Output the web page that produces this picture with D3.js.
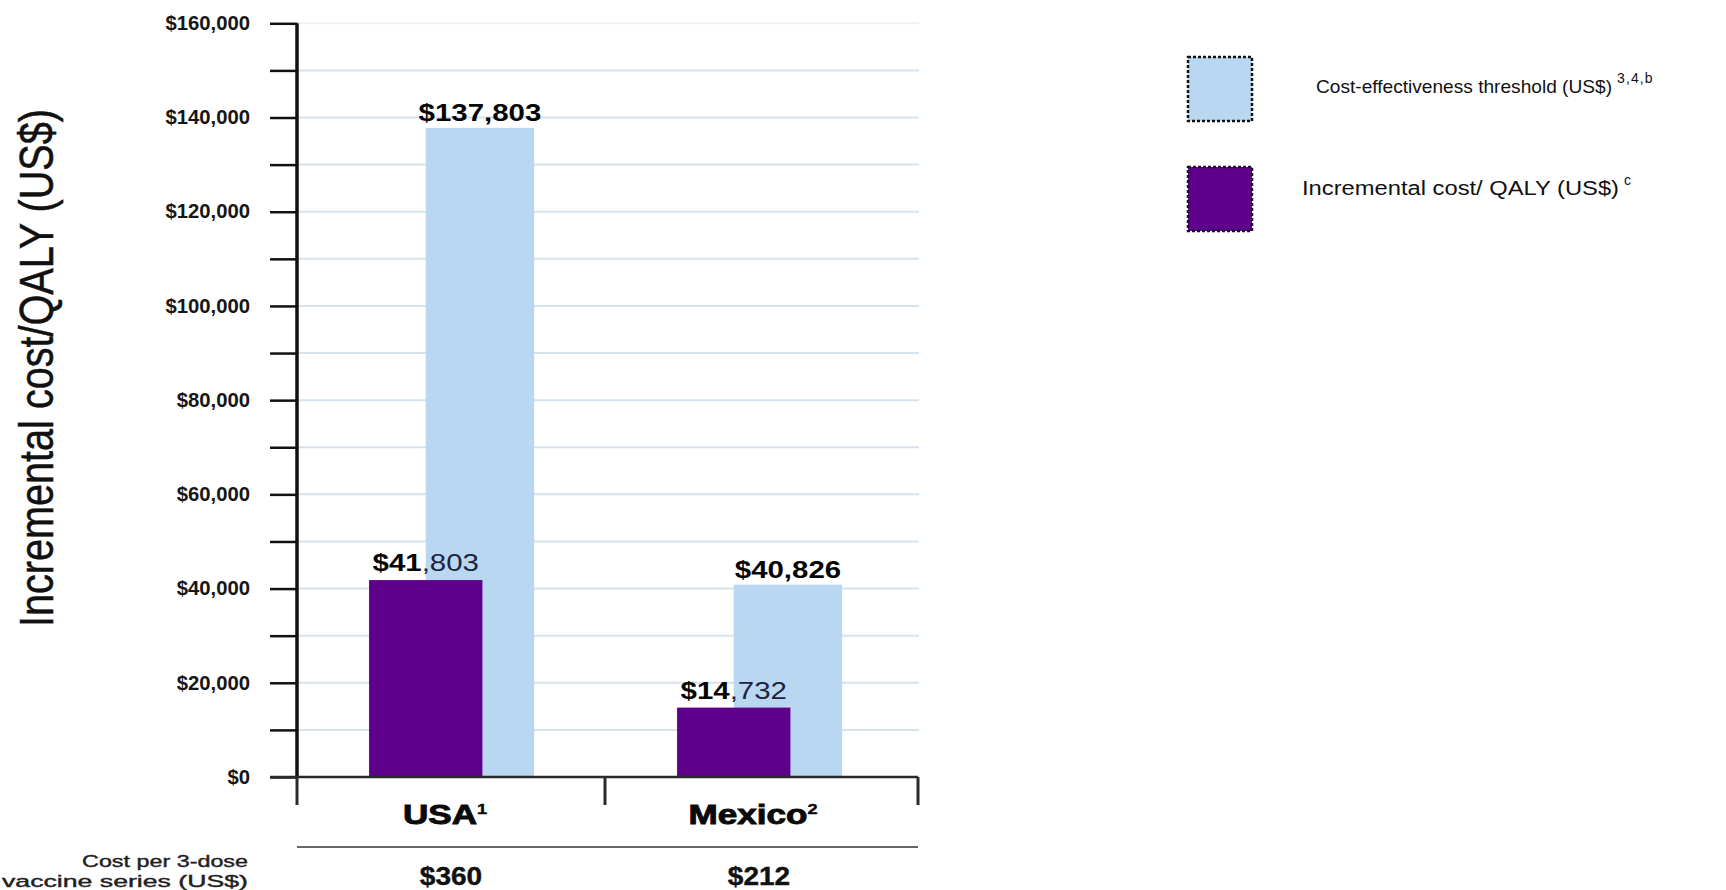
<!DOCTYPE html>
<html>
<head>
<meta charset="utf-8">
<script src="https://cdn.jsdelivr.net/npm/d3@7"></script>
<style>
  html, body { margin: 0; padding: 0; background: #fff; overflow: hidden; }
  svg { display: block; font-family: "Liberation Sans", Arial, sans-serif; }
</style>
</head>
<body>
<svg id="chart" width="1726" height="890"></svg>
<script>
// Countries on the x axis and the reference mark printed after each name
const countries = ["USA", "Mexico"];
const countryRefs = ["1", "2"];
// Cost per 3-dose vaccine series (US$)
const seriesCost = [360, 212];
// Incremental cost per QALY (US$)
const incrementalCost = [41803, 14732];
// Cost-effectiveness threshold (US$)
const thresholdCost = [137803, 40826];
// Y axis ticks (every $10,000, labelled every $20,000)
const yTicks = [0, 10000, 20000, 30000, 40000, 50000, 60000, 70000, 80000,
                90000, 100000, 110000, 120000, 130000, 140000, 150000, 160000];
const yTickLabels = ["$0", "", "$20,000", "", "$40,000", "", "$60,000", "", "$80,000",
                     "", "$100,000", "", "$120,000", "", "$140,000", "", "$160,000"];
// Legend entries
const legendLabels = ["Cost-effectiveness threshold (US$)", "Incremental cost/ QALY (US$)"];
const legendRefs = ["3,4,b", "c"];
const rowLabel = ["Cost per 3-dose", "vaccine series (US$)"];
const yTitle = "Incremental cost/QALY (US$)";

const PURPLE = "#5e008b";
const LIGHT_BLUE = "#b9d7f1";
const GRID = "#d4e3ed";

const svg = d3.select("#chart");
const plotLeft = 297, plotRight = 918, plotTop = 23.3, plotBase = 777;

const y = d3.scaleLinear().domain([0, 160000]).range([plotBase, plotTop]);
// Category bands (the frame runs on a few pixels past the last band)
const x = d3.scaleBand().domain(countries).range([plotLeft, 913]).padding(0);
const bw = x.bandwidth();
const money = d3.format("$,");

// Horizontally stretched text anchored at (cx, cy)
function stretched(parent, cx, cy, sx, anchor) {
  return parent.append("text")
    .attr("transform", `translate(${cx},${cy}) scale(${sx},1)`)
    .attr("text-anchor", anchor);
}

// Gridlines
svg.append("g").selectAll("line")
  .data(yTicks.filter(d => d > 0))
  .join("line")
  .attr("x1", plotLeft).attr("x2", plotRight + 1)
  .attr("y1", d => y(d)).attr("y2", d => y(d))
  .attr("stroke", d => d === 160000 ? "#ecf3f6" : GRID)
  .attr("stroke-width", 2);

// Bars: threshold behind, incremental cost in front
const bars = svg.append("g");
const blueX = c => x(c) + bw * 0.418, blueW = bw * 0.352;
const purpleX = c => x(c) + bw * 0.234, purpleW = bw * 0.368;

bars.selectAll("rect.threshold")
  .data(countries.map((c, i) => ({ c, v: thresholdCost[i] })))
  .join("rect").attr("class", "threshold")
  .attr("x", d => blueX(d.c)).attr("width", blueW)
  .attr("y", d => y(d.v)).attr("height", d => y(0) - y(d.v))
  .attr("fill", LIGHT_BLUE);

bars.selectAll("rect.incremental")
  .data(countries.map((c, i) => ({ c, v: incrementalCost[i] })))
  .join("rect").attr("class", "incremental")
  .attr("x", d => purpleX(d.c)).attr("width", purpleW)
  .attr("y", d => y(d.v)).attr("height", d => y(0) - y(d.v))
  .attr("fill", PURPLE);

// Value labels
const labels = svg.append("g").attr("font-size", 23);
const valueSx = 1.28;
countries.forEach((c, i) => {
  const tv = thresholdCost[i];
  stretched(labels, blueX(c) + blueW / 2, y(tv) - 7, valueSx, "middle")
    .attr("font-weight", "bold").attr("fill", "#050505")
    .text(money(tv));

  const iv = incrementalCost[i];
  const s = money(iv);
  const cut = s.indexOf(",");
  const t = stretched(labels, purpleX(c) + purpleW / 2, y(iv) - 9, valueSx, "middle");
  t.append("tspan").attr("font-weight", "bold").attr("fill", "#050505").text(s.slice(0, cut));
  t.append("tspan").attr("fill", "#1c2340").text(s.slice(cut));
});

// Y axis
const yAxis = d3.axisLeft(y)
  .tickValues(yTicks)
  .tickSize(27)
  .tickSizeOuter(0)
  .tickPadding(0)
  .tickFormat((d, i) => yTickLabels[i]);

const gy = svg.append("g")
  .attr("transform", `translate(${plotLeft},0)`)
  .call(yAxis);
gy.select(".domain").remove();
gy.selectAll(".tick line").attr("stroke", "#111").attr("stroke-width", 2.5);
const tickSx = 1.04;
gy.selectAll(".tick text")
  .attr("x", -47 / tickSx)
  .attr("transform", `scale(${tickSx},1)`)
  .attr("font-family", "Liberation Sans, Arial, sans-serif")
  .attr("font-size", 19.5)
  .attr("font-weight", "bold")
  .attr("fill", "#161616");

svg.append("line")
  .attr("x1", plotLeft).attr("x2", plotLeft)
  .attr("y1", plotTop).attr("y2", plotBase)
  .attr("stroke", "#111").attr("stroke-width", 3.5);

// X axis baseline and category separators
svg.append("line")
  .attr("x1", 270).attr("x2", plotRight)
  .attr("y1", plotBase).attr("y2", plotBase)
  .attr("stroke", "#2a2a2a").attr("stroke-width", 2.5);

const bounds = countries.map(c => x(c)).concat([plotRight]);
svg.append("g").selectAll("line")
  .data(bounds)
  .join("line")
  .attr("x1", d => d).attr("x2", d => d)
  .attr("y1", plotBase).attr("y2", 805)
  .attr("stroke", "#2a2a2a").attr("stroke-width", 3);

// Country names
countries.forEach((c, i) => {
  const t = stretched(svg, x(c) + bw / 2 - 6, 824, 1.3, "middle")
    .attr("font-size", 27).attr("font-weight", "bold")
    .attr("fill", "#0a0a0a").attr("stroke", "#0a0a0a").attr("stroke-width", 0.9);
  t.append("tspan").text(c);
  t.append("tspan").attr("font-size", 14).attr("dy", -10).attr("stroke-width", 0.4).text(countryRefs[i]);
});

// Separator above the vaccine series cost row
svg.append("line")
  .attr("x1", plotLeft).attr("x2", plotRight)
  .attr("y1", 847).attr("y2", 847)
  .attr("stroke", "#666").attr("stroke-width", 2);

// Vaccine series cost per country
countries.forEach((c, i) => {
  stretched(svg, x(c) + bw / 2, 885, 1.12, "middle")
    .attr("font-size", 25).attr("font-weight", "bold")
    .attr("fill", "#111").attr("stroke", "#111").attr("stroke-width", 0.4)
    .text(money(seriesCost[i]));
});

// Row caption, fitted to its right-aligned slot
const rowTargets = [166, 246];
rowLabel.forEach((txt, i) => {
  const t = svg.append("text")
    .attr("font-size", 17)
    .attr("fill", "#1f1f1f").attr("stroke", "#1f1f1f").attr("stroke-width", 0.4)
    .attr("text-anchor", "end")
    .text(txt);
  const len = t.node().getComputedTextLength();
  t.attr("transform", `translate(248,${867 + i * 20}) scale(${rowTargets[i] / len},1)`);
});

// Y axis title
svg.append("text")
  .attr("transform", "translate(53,368) rotate(-90)")
  .attr("text-anchor", "middle")
  .attr("font-size", 48)
  .attr("fill", "#111").attr("stroke", "#111").attr("stroke-width", 0.5)
  .attr("textLength", 518)
  .attr("lengthAdjust", "spacingAndGlyphs")
  .text(yTitle);

// Legend
const legend = svg.append("g");
const legendFill = [LIGHT_BLUE, PURPLE];
const legendStroke = ["#111", "#1b0b2e"];
const legendTextX = [1316, 1302];
const legendTextW = [296, 317];
const legendFont = [19, 20];
const legendBaseline = [93, 195];
legendLabels.forEach((lab, i) => {
  legend.append("rect")
    .attr("x", 1188).attr("y", 57 + i * 110)
    .attr("width", 64).attr("height", 64)
    .attr("fill", legendFill[i])
    .attr("stroke", legendStroke[i])
    .attr("stroke-width", 2.5)
    .attr("stroke-dasharray", "3,2");
  legend.append("text")
    .attr("x", legendTextX[i]).attr("y", legendBaseline[i])
    .attr("font-size", legendFont[i]).attr("fill", "#111")
    .attr("textLength", legendTextW[i])
    .attr("lengthAdjust", "spacingAndGlyphs")
    .text(lab);
  legend.append("text")
    .attr("x", legendTextX[i] + legendTextW[i] + 5).attr("y", legendBaseline[i] - 10)
    .attr("font-size", 14).attr("letter-spacing", 1.1).attr("fill", "#111")
    .text(legendRefs[i]);
});
</script>
</body>
</html>
